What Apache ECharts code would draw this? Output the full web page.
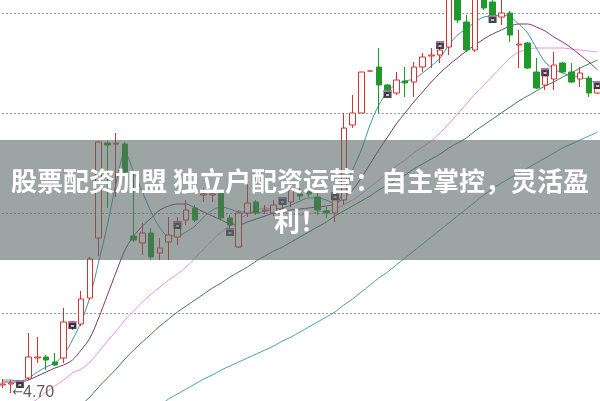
<!DOCTYPE html>
<html><head><meta charset="utf-8">
<script src="https://cdn.jsdelivr.net/npm/echarts@6/dist/echarts.min.js"></script>
<style>html,body{margin:0;padding:0;background:#fff}#c{width:600px;height:401px}</style>
</head><body><div id="c"></div>
<script>
// candle values (price)
const opens=[4.78,4.79,4.79,4.85,5.05,5.06,5.01,5.05,5.36,5.39,
5.65,6.25,7.20,7.19,7.19,6.27,6.20,6.30,6.10,6.21,
6.26,6.43,6.55,6.68,6.68,6.70,6.45,6.16,6.50,6.61,
6.52,6.50,6.53,6.61,6.69,6.72,6.66,6.52,6.50,6.63,
7.38,7.50,7.92,7.96,7.78,7.70,7.82,7.81,7.96,8.07,
8.08,8.16,8.73,8.41,8.13,8.71,8.61,8.46,8.50,8.18,
8.20,7.91,7.78,7.84,8.00,7.91,7.84,7.85,7.70];
const closes=[4.79,4.80,4.78,5.06,5.06,5.03,4.98,5.41,5.39,5.64,
6.04,7.21,7.18,7.20,6.91,6.23,6.30,6.06,6.15,6.28,
6.35,6.53,6.43,6.69,6.69,6.45,6.38,6.50,6.60,6.50,
6.53,6.58,6.54,6.73,6.67,6.69,6.53,6.50,6.63,7.35,
7.50,7.91,7.92,7.78,7.73,7.83,7.80,7.96,8.06,8.08,
8.13,8.78,8.43,8.13,8.68,8.55,8.48,8.50,8.28,8.19,
7.95,7.75,7.87,7.98,7.91,7.81,7.90,7.70,7.75];
const lows=[4.75,4.70,4.75,4.83,5.00,4.93,4.97,5.00,5.33,5.37,
5.63,6.07,6.55,6.66,6.88,6.21,6.08,6.03,6.03,6.03,
6.18,6.38,6.41,6.61,6.61,6.43,6.35,6.15,6.46,6.48,
6.49,6.47,6.50,6.56,6.63,6.66,6.48,6.45,6.41,6.58,
7.35,7.50,7.92,7.50,7.68,7.68,7.66,7.66,7.91,7.95,
8.00,8.08,8.40,8.11,8.11,8.53,8.41,8.38,8.21,7.95,
7.94,7.74,7.73,7.73,7.90,7.80,7.76,7.66,7.69];
const highs=[4.84,4.83,4.82,5.30,5.26,5.08,5.10,5.55,5.42,5.72,
6.06,7.22,7.22,7.30,7.21,6.90,6.40,6.35,6.25,6.46,
6.46,6.63,6.58,6.75,6.73,6.73,6.48,6.53,6.80,6.63,
6.58,6.63,6.58,6.80,6.75,6.75,6.70,6.56,6.68,7.50,
7.68,7.91,7.92,8.15,7.79,7.91,7.96,8.01,8.10,8.15,
8.21,8.83,8.78,8.48,8.73,8.75,8.68,8.63,8.52,8.33,
8.21,8.05,7.93,8.11,8.01,8.00,7.96,7.87,7.81];
// moving averages
const ma5=[4.83,4.83,4.82,4.85,4.91,4.96,5.00,5.08,5.23,5.41,
5.66,6.01,6.38,6.80,7.11,6.91,6.71,6.51,6.35,6.27,
6.27,6.31,6.37,6.46,6.53,6.56,6.54,6.51,6.51,6.50,
6.52,6.54,6.55,6.58,6.62,6.65,6.65,6.63,6.59,6.73,
6.93,7.13,7.38,7.58,7.71,7.79,7.82,7.84,7.90,7.97,
8.05,8.18,8.28,8.34,8.41,8.46,8.47,8.48,8.46,8.39,
8.30,8.15,8.01,7.94,7.90,7.87,7.86,7.83,7.79];
const ma10=[4.81,4.81,4.81,4.83,4.87,4.91,4.95,4.98,5.03,5.13,
5.25,5.45,5.68,5.91,6.13,6.27,6.37,6.45,6.53,6.57,
6.59,6.59,6.55,6.51,6.47,6.43,6.39,6.38,6.41,6.44,
6.47,6.50,6.52,6.53,6.54,6.55,6.56,6.57,6.59,6.65,
6.73,6.85,6.99,7.13,7.26,7.39,7.50,7.61,7.71,7.81,
7.90,7.98,8.05,8.12,8.18,8.24,8.29,8.33,8.37,8.39,
8.39,8.36,8.32,8.26,8.21,8.15,8.08,8.01,7.93];
const ma20=[4.38,4.45,4.51,4.58,4.64,4.71,4.77,4.83,4.90,4.94,
5.01,5.11,5.22,5.32,5.43,5.52,5.61,5.69,5.76,5.83,
5.89,5.96,6.05,6.14,6.23,6.31,6.37,6.43,6.49,6.53,
6.55,6.53,6.51,6.49,6.48,6.49,6.51,6.52,6.54,6.58,
6.63,6.69,6.76,6.83,6.90,6.97,7.03,7.10,7.16,7.22,
7.30,7.39,7.49,7.59,7.69,7.78,7.87,7.96,8.05,8.11,
8.14,8.15,8.15,8.15,8.15,8.14,8.13,8.12,8.11];
const ma60=[3.73,3.82,3.91,4.00,4.10,4.19,4.29,4.39,4.49,4.58,
4.66,4.76,4.85,4.94,5.04,5.13,5.21,5.29,5.37,5.44,
5.51,5.57,5.63,5.69,5.75,5.80,5.86,5.91,5.96,6.02,
6.07,6.12,6.16,6.21,6.26,6.31,6.36,6.41,6.47,6.52,
6.57,6.62,6.67,6.73,6.78,6.83,6.88,6.94,6.99,7.04,
7.09,7.15,7.20,7.25,7.32,7.38,7.44,7.50,7.56,7.62,
7.67,7.72,7.77,7.81,7.86,7.90,7.95,7.99,8.03];
const ma120=[3.63,3.68,3.73,3.78,3.83,3.89,3.95,4.01,4.07,4.13,
4.19,4.25,4.31,4.36,4.42,4.47,4.52,4.55,4.58,4.64,
4.69,4.74,4.79,4.84,4.88,4.93,4.97,5.01,5.05,5.09,
5.13,5.17,5.22,5.26,5.31,5.36,5.41,5.46,5.51,5.58,
5.64,5.71,5.78,5.85,5.91,5.98,6.05,6.12,6.19,6.26,
6.33,6.40,6.47,6.54,6.61,6.68,6.74,6.80,6.85,6.90,
6.95,7.00,7.05,7.10,7.15,7.19,7.23,7.27,7.31];
// event markers: candle index and price
const markerIdx=[2,8,20,26,32,38,44,50,56,62,68];
const markerPrice=[4.79,5.38,6.38,6.31,6.62,6.67,7.69,8.18,8.44,7.91,7.78];
const bannerText='股票配资加盟 独立户配资运营：自主掌控，灵活盈\n利！';

const categories=opens.map((_,i)=>String(i+1));
const candles=opens.map((o,i)=>[o,closes[i],lows[i],highs[i]]);
let minI=0; lows.forEach((v,i)=>{if(v<lows[minI])minI=i;});

const chart=echarts.init(document.getElementById('c'),null,{renderer:'canvas'});
const line=(name,data,color)=>({name,type:'line',data,symbol:'none',smooth:0.3,silent:true,
  lineStyle:{color,width:1},z:3});
chart.setOption({
  animation:false,
  backgroundColor:'#fff',
  grid:{left:-2,right:-2,top:-1,bottom:-12,outerBoundsMode:'none',containLabel:false},
  xAxis:{type:'category',data:categories,show:false,boundaryGap:true},
  yAxis:{type:'value',min:4.5,max:8.64,interval:1,
    axisLine:{show:false},axisTick:{show:false},axisLabel:{show:false},
    splitLine:{show:true,lineStyle:{color:'#9a9a9a',type:[2,2],width:1}}},
  series:[
    {type:'candlestick',data:candles,barWidth:6,z:4,
      itemStyle:{color:'#ffffff',color0:'#1f9a2a',borderColor:'#d93030',borderColor0:'#1f9a2a',borderColorDoji:'#d93030',borderWidth:1}},
    line('MA120',ma120,'#4aa0aa'),
    line('MA60',ma60,'#3f7d50'),
    line('MA20',ma20,'#e590e6'),
    line('MA10',ma10,'#7a3a68'),
    line('MA5',ma5,'#3a98a0'),
    {type:'scatter',data:markerIdx.map((x,i)=>[x,markerPrice[i]]),symbol:'rect',symbolSize:[8,8],z:6,
      itemStyle:{color:'#151a22'}},
    {type:'scatter',data:markerIdx.map((x,i)=>[x,markerPrice[i]]),symbol:'rect',symbolSize:[8,2],symbolOffset:[0,-3],z:7,
      itemStyle:{color:'#c97cc4'}},
    {type:'scatter',data:markerIdx.map((x,i)=>[x,markerPrice[i]]),symbol:'rect',symbolSize:[3,2],symbolOffset:[0,1],z:7,
      itemStyle:{color:'#e8e8e8'}},
    {type:'scatter',data:[[minI,lows[minI]]],symbolSize:0,z:8,
      label:{show:true,position:'right',distance:1,color:'#333',fontSize:16,fontFamily:'Liberation Sans',
        formatter:p=>'{a|←}'+p.value[1].toFixed(2),
        rich:{a:{fontSize:13,color:'#333',fontFamily:'DejaVu Sans'}}}}
  ],
  graphic:[
    {type:'rect',z:100,shape:{x:0,y:140,width:600,height:120},style:{fill:'rgba(90,105,102,0.6)'}},
    {type:'text',z:101,x:300,y:201,style:{text:bannerText,align:'center',verticalAlign:'middle',
      fill:'#ffffff',fontSize:26,fontWeight:'bold',fontFamily:'Noto Sans CJK SC',lineHeight:40}}
  ]
});
</script></body></html>
